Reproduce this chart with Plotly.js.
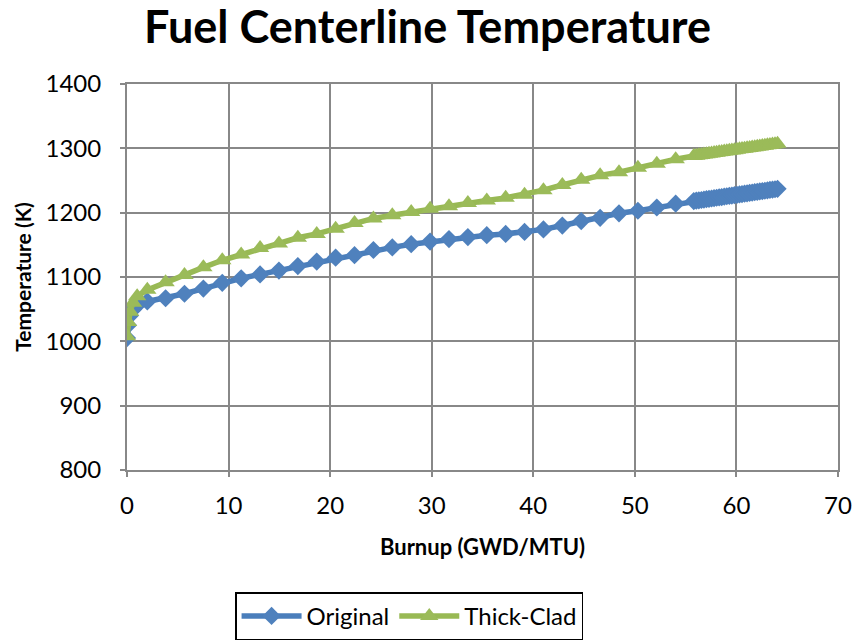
<!DOCTYPE html>
<html>
<head>
<meta charset="utf-8">
<script src="https://cdn.plot.ly/plotly-3.0.1.min.js"></script>
<style>html,body{margin:0;padding:0;background:#fff;}#chart{width:855px;height:640px;}</style>
</head>
<body>
<div id="chart"></div>
<script>
const burnup = [0, 0.1, 0.3, 0.6, 1.0, 2.0, 3.8, 5.66, 7.52, 9.38, 11.24, 13.1, 14.96, 16.82, 18.68, 20.54, 22.4, 24.26, 26.12, 27.98, 29.84, 31.7, 33.56, 35.42, 37.28, 39.14, 41.0, 42.86, 44.72, 46.58, 48.44, 50.3, 52.16, 54.02,
  55.8, 56.05, 56.3, 56.55, 56.8, 57.05, 57.3, 57.55, 57.8, 58.05, 58.3, 58.55, 58.8, 59.05, 59.3, 59.55, 59.8, 60.05, 60.3, 60.55, 60.8, 61.05, 61.3, 61.55, 61.8, 62.05, 62.3, 62.55, 62.8, 63.05, 63.3, 63.55, 63.8, 64.05];

const original = [1005, 1025, 1040, 1050, 1056, 1062, 1067, 1074, 1082, 1091, 1098, 1104, 1110, 1117, 1124, 1130, 1134, 1142, 1146, 1151, 1155, 1159, 1162, 1165, 1167, 1170, 1174, 1180, 1187, 1192, 1199, 1203, 1208, 1214,
  1218, 1218.6, 1219.2, 1219.7, 1220.3, 1220.9, 1221.5, 1222, 1222.6, 1223.2, 1223.8, 1224.3, 1224.9, 1225.5, 1226.1, 1226.6, 1227.2, 1227.8, 1228.4, 1228.9, 1229.5, 1230.1, 1230.7, 1231.2, 1231.8, 1232.4, 1233, 1233.5, 1234.1, 1234.7, 1235.3, 1235.8, 1236.4, 1237];

const thickClad = [1008, 1030, 1046, 1060, 1070, 1080, 1092, 1103, 1115, 1126, 1135, 1145, 1152, 1161, 1167, 1175, 1184, 1191, 1196, 1201, 1206, 1210, 1215, 1219, 1223, 1228, 1235, 1243, 1251, 1258, 1263, 1270, 1276, 1283,
  1288, 1288.6, 1289.2, 1289.7, 1290.3, 1290.9, 1291.5, 1292, 1292.6, 1293.2, 1293.8, 1294.3, 1294.9, 1295.5, 1296.1, 1296.6, 1297.2, 1297.8, 1298.4, 1298.9, 1299.5, 1300.1, 1300.7, 1301.2, 1301.8, 1302.4, 1303, 1303.5, 1304.1, 1304.7, 1305.3, 1305.8, 1306.4, 1307];

const seriesNames = ['Original', 'Thick-Clad'];
const xTicks = [0, 10, 20, 30, 40, 50, 60, 70];
const yTicks = [800, 900, 1000, 1100, 1200, 1300, 1400];

const FONT = 'Lato, "Open Sans", sans-serif';

const traces = [
  {
    x: burnup, y: original, name: seriesNames[0], type: 'scatter', mode: 'lines+markers',
    line: {color: '#4A7EBB', width: 5.5},
    marker: {symbol: 'diamond', size: 14, color: '#4F81BD', line: {width: 0}}
  },
  {
    x: burnup, y: thickClad, name: seriesNames[1], type: 'scatter', mode: 'lines+markers',
    line: {color: '#98B954', width: 5.5},
    marker: {symbol: 'triangle-up', size: 16, color: '#9BBB59', line: {width: 0}}
  }
];

const layout = {
  width: 855, height: 640,
  paper_bgcolor: '#ffffff', plot_bgcolor: '#ffffff',
  margin: {l: 127, r: 17, t: 84, b: 170, autoexpand: false},
  font: {family: FONT, color: '#000000', size: 22},
  title: {
    text: '<b>Fuel Centerline Temperature</b>',
    font: {family: FONT, size: 45, color: '#000000'},
    x: 0.5, xref: 'container', xanchor: 'center',
    y: 0.957, yref: 'container', yanchor: 'middle'
  },
  xaxis: {
    range: [0, 70], tickvals: xTicks, ticktext: xTicks.map(String),
    automargin: false,
    showgrid: true, gridcolor: '#888888', gridwidth: 2,
    showline: true, linecolor: '#888888', linewidth: 2, mirror: true,
    ticks: 'outside', ticklen: 5, tickcolor: '#888888', tickwidth: 2,
    ticklabelstandoff: 8,
    tickfont: {family: FONT, size: 24, color: '#000'},
    zeroline: false,
    title: {text: '<b>Burnup (GWD/MTU)</b>', font: {family: FONT, size: 22, color: '#000'}, standoff: 22}
  },
  yaxis: {
    range: [800, 1400], tickvals: yTicks, ticktext: yTicks.map(String),
    automargin: false,
    showgrid: true, gridcolor: '#888888', gridwidth: 2,
    showline: true, linecolor: '#888888', linewidth: 2, mirror: true,
    ticks: 'outside', ticklen: 5, tickcolor: '#888888', tickwidth: 2,
    ticklabelstandoff: 14,
    tickfont: {family: FONT, size: 24, color: '#000'},
    zeroline: false,
    title: {text: '<b>Temperature (K)</b>', font: {family: FONT, size: 21, color: '#000'}, standoff: 8}
  },
  showlegend: true,
  legend: {
    orientation: 'h', x: 0.152, xanchor: 'left', y: -0.317, yanchor: 'top',
    xref: 'paper', yref: 'paper',
    bordercolor: '#000000', borderwidth: 1.5, bgcolor: '#ffffff',
    font: {family: FONT, size: 24, color: '#000'},
    itemwidth: 60, traceorder: 'normal'
  }
};

Plotly.newPlot('chart', traces, layout, {displayModeBar: false, staticPlot: true});
</script>
</body>
</html>
